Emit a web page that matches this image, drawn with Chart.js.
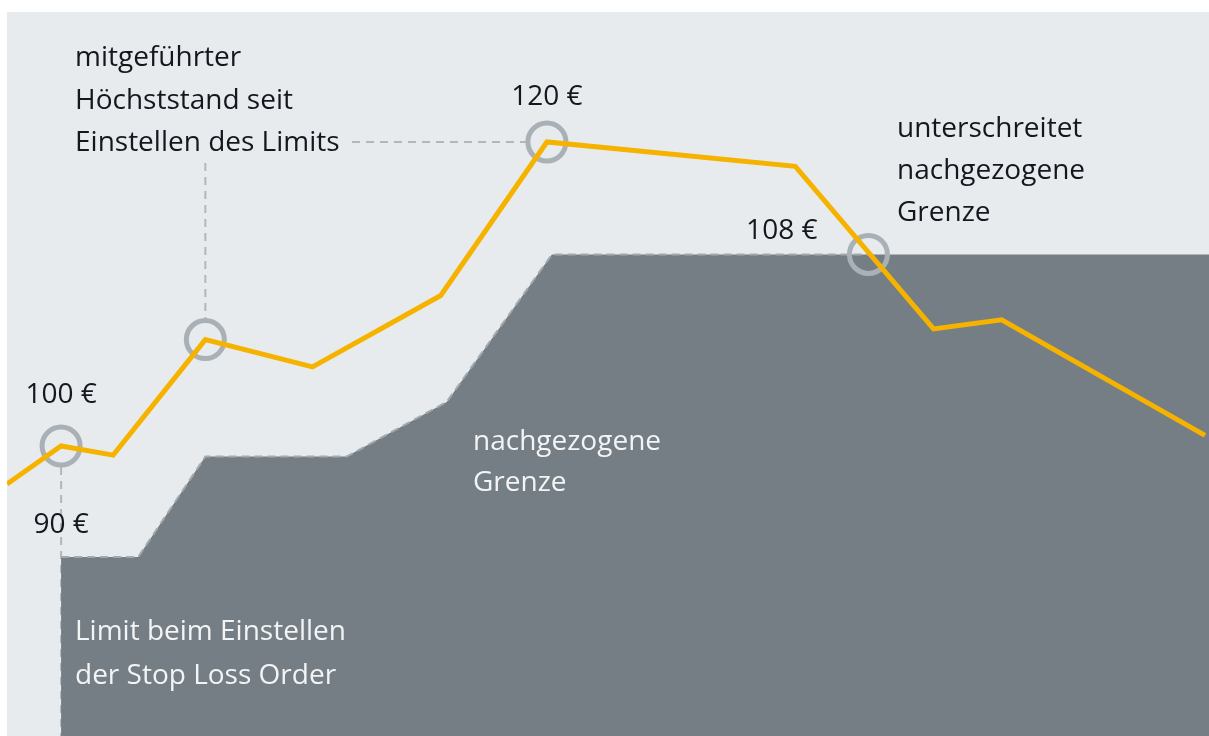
<!DOCTYPE html>
<html lang="de">
<head>
<meta charset="utf-8">
<title>Stop Loss Order – nachgezogene Grenze</title>
<script src="https://cdn.jsdelivr.net/npm/chart.js@4.4.1/dist/chart.umd.min.js"></script>
<style>
    html, body { margin: 0; padding: 0; background: #ffffff; }
    #wrap { position: relative; width: 1209px; height: 736px; overflow: hidden; }
    canvas { display: block; }
</style>
</head>
<body>
<div id="wrap"><canvas id="stopLossChart" width="1209" height="736"></canvas></div>
<script>
// Kursverlauf (Zeit in Tagen, Kurs in Euro)
const tage = [0, 5.4, 10.6, 19.8, 30.5, 43.3, 53.9, 78.7, 92.5, 99.3, 119.6];
const kurs = [97.5, 100, 99.4, 107.0, 105.2, 109.9, 120, 118.4, 107.7, 108.3, 100.7];

// nachgezogene Grenze (Stop-Limit)
const grenzeTage = [5.4, 13.1, 19.8, 33.9, 43.9, 54.4, 86.0, 120];
const grenze = [92.7, 92.7, 99.3, 99.3, 102.9, 112.6, 112.6, 112.6];

// markierte Punkte (Kreise)
const markerTage = [5.4, 19.8, 53.9, 86.0];
const markerWerte = [100, 107.0, 120, 112.6];

// Beschriftungen
const wertLabels = ['100 €', '90 €', '120 €', '108 €'];
const textHoechststand = ['mitgeführter', 'Höchststand seit', 'Einstellen des Limits'];
const textUnterschreitet = ['unterschreitet', 'nachgezogene', 'Grenze'];
const textGrenze = ['nachgezogene', 'Grenze'];
const textLimit = ['Limit beim Einstellen', 'der Stop Loss Order'];

const FONT = '500 28px "Open Sans", "Liberation Sans", sans-serif';
const DUNKEL = '#16161f';
const HELL = '#f3f4f5';
const STRICH = '#b1b7bb';

const toPoints = (xs, ys) => xs.map((x, i) => ({ x: x, y: ys[i] }));

// Hintergrundfläche
const panelPlugin = {
    id: 'panel',
    beforeDraw: (chart) => {
        const { ctx, chartArea } = chart;
        ctx.save();
        ctx.fillStyle = '#e8ebee';
        ctx.fillRect(chartArea.left, chartArea.top, chartArea.right - chartArea.left, chartArea.bottom - chartArea.top);
        ctx.restore();
    }
};

// gestrichelte Hilfslinien, vor den Kreisen gezeichnet
const hilfslinienPlugin = {
    id: 'hilfslinien',
    beforeDatasetsDraw: (chart) => {
        const { ctx, scales, chartArea } = chart;
        const xs = scales.x, ys = scales.y;
        const r = 19;
        ctx.save();
        ctx.strokeStyle = STRICH;
        ctx.lineWidth = 2;
        ctx.setLineDash([8, 6]);

        // vom Startpunkt nach unten
        const sx = xs.getPixelForValue(markerTage[0]);
        const sy = ys.getPixelForValue(markerWerte[0]);
        ctx.beginPath();
        ctx.moveTo(sx, sy + r + 2);
        ctx.lineTo(sx, chartArea.bottom);
        ctx.stroke();

        // vom Zwischenhoch nach oben zum Text
        const hx = xs.getPixelForValue(markerTage[1]);
        const hy = ys.getPixelForValue(markerWerte[1]);
        ctx.beginPath();
        ctx.moveTo(hx, 163);
        ctx.lineTo(hx, hy - r - 2);
        ctx.stroke();

        // vom Text zum Höchststand
        const px = xs.getPixelForValue(markerTage[2]);
        const py = ys.getPixelForValue(markerWerte[2]);
        ctx.beginPath();
        ctx.moveTo(352, py);
        ctx.lineTo(px - r - 2, py);
        ctx.stroke();
        ctx.restore();
    }
};

// Texte
const textPlugin = {
    id: 'texte',
    afterDatasetsDraw: (chart) => {
        const { ctx, scales } = chart;
        const xs = scales.x, ys = scales.y;
        const lines = (arr, x, y0, step, color) => {
            ctx.fillStyle = color;
            arr.forEach((t, i) => ctx.fillText(t, x, y0 + i * step));
        };
        ctx.save();
        ctx.font = FONT;
        ctx.letterSpacing = '0px';
        ctx.textBaseline = 'alphabetic';
        ctx.textAlign = 'left';

        lines(textHoechststand, 75, 66, 42.5, DUNKEL);
        lines(textUnterschreitet, 897, 137, 42, DUNKEL);
        lines(textGrenze, 473, 450, 41, HELL);
        lines(textLimit, 75, 640, 44, HELL);

        ctx.fillStyle = DUNKEL;
        ctx.textAlign = 'center';
        const x100 = xs.getPixelForValue(markerTage[0]);
        ctx.fillText(wertLabels[0], x100, ys.getPixelForValue(markerWerte[0]) - 43);
        ctx.fillText(wertLabels[1], x100, ys.getPixelForValue(grenze[0]) - 24);
        ctx.fillText(wertLabels[2], xs.getPixelForValue(markerTage[2]), ys.getPixelForValue(markerWerte[2]) - 37);
        ctx.textAlign = 'right';
        ctx.fillText(wertLabels[3], xs.getPixelForValue(markerTage[3]) - 51, ys.getPixelForValue(markerWerte[3]) - 15);
        ctx.restore();
    }
};

document.addEventListener('DOMContentLoaded', () => {
    const ctx = document.getElementById('stopLossChart').getContext('2d');

    new Chart(ctx, {
        type: 'line',
        data: {
            datasets: [
                {
                    label: 'Kurs',
                    data: toPoints(tage, kurs),
                    borderColor: '#f5b300',
                    borderWidth: 5,
                    pointRadius: 0,
                    fill: false,
                    tension: 0,
                    borderJoinStyle: 'miter',
                    order: 0
                },
                {
                    label: 'Markierung',
                    data: toPoints(markerTage, markerWerte),
                    showLine: false,
                    pointRadius: 19,
                    pointBorderWidth: 5,
                    pointBorderColor: '#a9b1b6',
                    pointBackgroundColor: 'rgba(0,0,0,0)',
                    order: 1
                },
                {
                    // gestrichelte Oberkante bis zum Unterschreiten
                    label: 'Grenze Kante',
                    data: toPoints(grenzeTage.slice(0, 7), grenze.slice(0, 7)),
                    borderColor: '#a3aaaf',
                    borderWidth: 2,
                    borderDash: [8, 5],
                    pointRadius: 0,
                    fill: false,
                    tension: 0,
                    order: 2
                },
                {
                    label: 'nachgezogene Grenze',
                    data: toPoints(grenzeTage, grenze),
                    borderWidth: 0,
                    borderColor: 'rgba(0,0,0,0)',
                    backgroundColor: '#757e84',
                    pointRadius: 0,
                    fill: 'start',
                    tension: 0,
                    order: 3
                }
            ]
        },
        options: {
            responsive: false,
            animation: false,
            devicePixelRatio: 1,
            layout: { autoPadding: false, padding: { left: 7, top: 12, right: 0, bottom: 0 } },
            plugins: {
                legend: { display: false },
                tooltip: { enabled: false }
            },
            scales: {
                x: { type: 'linear', min: 0, max: 120, display: false },
                y: { type: 'linear', min: 80.92, max: 128.55, display: false }
            }
        },
        plugins: [panelPlugin, hilfslinienPlugin, textPlugin]
    });
});
</script>
</body>
</html>
